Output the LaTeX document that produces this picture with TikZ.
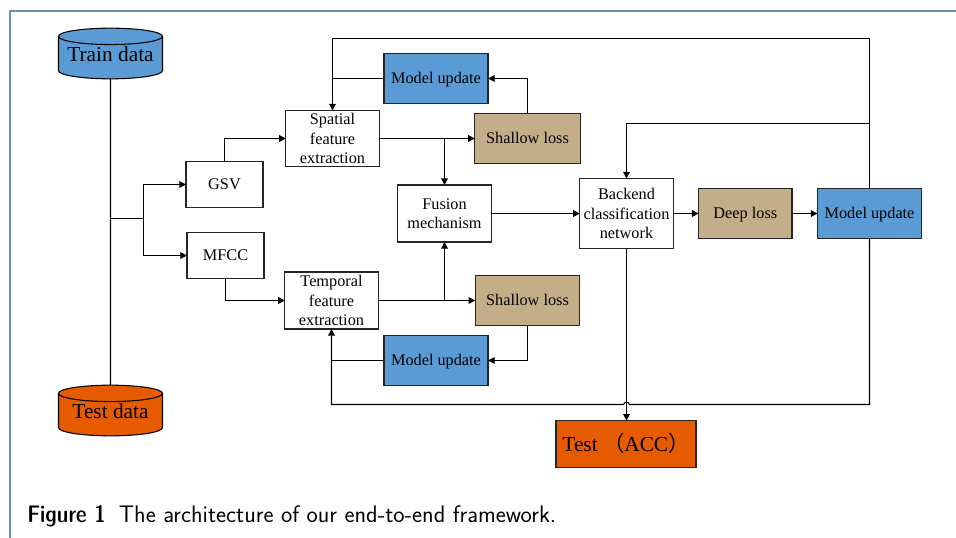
\documentclass[tikz,border=0pt]{standalone}
\usepackage{fontspec}
\setmainfont{Liberation Serif}
\newfontfamily\cjk{Noto Sans CJK SC}
\usetikzlibrary{arrows.meta,shapes.geometric}
\definecolor{boxblue}{HTML}{5B9BD5}
\definecolor{boxtan}{HTML}{C4AE8A}
\definecolor{boxorange}{HTML}{E65A00}
\definecolor{frameblue}{HTML}{6F8FBA}
\tikzset{
  plainbox/.style={draw=black!85,line width=0.8pt,fill=white,inner sep=0pt,outer sep=0pt,align=center,
     font=\fontsize{12.2}{14.6}\selectfont},
  oneline/.style={plainbox,text height=9.5pt,text depth=1.5pt},
  updatebox/.style={oneline,fill=boxblue,minimum width=78pt,minimum height=38pt},
  lossbox/.style={oneline,fill=boxtan,minimum height=38pt},
  storetext/.style={font=\fontsize{16}{18}\selectfont,inner sep=0pt,yshift=2.6pt},
  store/.style={cylinder,shape border rotate=90,draw=black,line width=0.8pt,aspect=0.19,anchor=shape center,
     minimum width=78pt,minimum height=38pt,inner sep=0pt,outer sep=0pt,cylinder uses custom fill,
     font=\fontsize{16}{18}\selectfont},
  conn/.style={draw=black,line width=0.85pt,line join=miter},
  flow/.style={conn,-{Triangle[length=5pt,width=5pt]}},
}
\begin{document}
\begin{tikzpicture}[x=0.75pt,y=-0.75pt]
\useasboundingbox (0,0) rectangle (956,538);
\draw[frameblue,line width=0.8pt] (10,538) -- (10,11) -- (956,11);

\node[store,cylinder body fill=boxblue,cylinder end fill=boxblue,label={[storetext]center:Train data}] (train) at (110.5,53.5) {\phantom{Train data}};
\node[store,cylinder body fill=boxorange,cylinder end fill=boxorange,label={[storetext]center:Test data}] (testd) at (110.5,410.5) {\phantom{Train data}};

\node[oneline,minimum width=57.75pt,minimum height=34.5pt] (gsv) at (224.5,184.5) {GSV};
\node[oneline,minimum width=57.75pt,minimum height=34.5pt] (mfcc) at (225.5,255.5) {MFCC};
\node[plainbox,minimum width=70pt,minimum height=42pt] (spatial) at (332.5,138.5) {Spatial\\feature\\extraction};
\node[plainbox,minimum width=70pt,minimum height=42.75pt] (temporal) at (331.5,300.5) {Temporal\\feature\\extraction};
\node[updatebox] (mua) at (436,78.5) {Model update};
\node[updatebox] (mub) at (436,360.5) {Model update};
\node[updatebox] (muc) at (869.5,213.5) {Model update};
\node[lossbox,minimum width=79pt] (sla) at (527.5,138.5) {Shallow loss};
\node[lossbox,minimum width=78.5pt] (slb) at (527.5,300.5) {Shallow loss};
\node[lossbox,minimum width=70pt] (deep) at (745.3,213.5) {Deep loss};
\node[plainbox,minimum width=70pt,minimum height=42.75pt] (fusion) at (444.5,213.5) {Fusion\\mechanism};
\node[plainbox,minimum width=70pt,minimum height=52.5pt] (backend) at (626.5,213.5) {Backend\\classification\\network};
\node[plainbox,fill=boxorange,minimum width=105pt,minimum height=35pt,text height=12pt,text depth=1.5pt,font=\fontsize{16}{18}\selectfont] (acc) at (626,444) {Test {\cjk （}ACC{\cjk ）}};

\coordinate (fork) at (110.5,218.5);
\coordinate (split) at (143.5,218.5);
\coordinate (ja) at (444.5,138.5);
\coordinate (jb) at (444.5,300.5);
\coordinate (top) at (332.5,38.5);
\coordinate (mid) at (869.5,123.5);
\coordinate (hopr) at (629.5,404.5);
\coordinate (hopl) at (623.5,404.5);
\coordinate (bot) at (869.5,404.5);

\draw[conn] (train.south) -- (testd.north);
\draw[conn] (fork) -- (split);
\draw[flow] (split) |- (gsv.west);
\draw[flow] (split) |- (mfcc.west);
\draw[flow] (gsv.north) |- (spatial.west);
\draw[flow] (mfcc.south) |- (temporal.west);
\draw[flow] (spatial.east) -- (sla.west |- spatial.east);
\draw[flow] (ja) -- (fusion.north -| ja);
\draw[flow] (temporal.east) -- (slb.west |- temporal.east);
\draw[flow] (jb) -- (fusion.south -| jb);
\draw[flow] (sla.north) |- (mua.east);
\draw[flow] (slb.south) |- (mub.east);
\draw[conn] (mua.west) -- (spatial.north |- mua.west);
\draw[conn] (mub.west) -- (temporal.south |- mub.west);
\draw[flow] (fusion.east) -- (backend.west |- fusion.east);
\draw[flow] (backend.east |- deep.west) -- (deep.west);
\draw[flow] (deep.east) -- (muc.west);
\draw[flow] (muc.north) |- (top) -- (spatial.north);
\draw[flow] (mid) -| (backend.north);
\draw[flow] (backend.south) -- (acc.north -| backend.south);
\draw[flow] (muc.south) -- (bot) -- (hopr) .. controls (628.5,401.5) and (624.5,401.5) .. (hopl) -| (temporal.south);

\node[anchor=base west,inner sep=0pt,font=\fontsize{17.95}{20}\sffamily] (cap) at (27,522) {{\fontseries{sbc}\selectfont Figure 1}\hspace{0.55em}The architecture of our end-to-end framework.};
\end{tikzpicture}
\end{document}
